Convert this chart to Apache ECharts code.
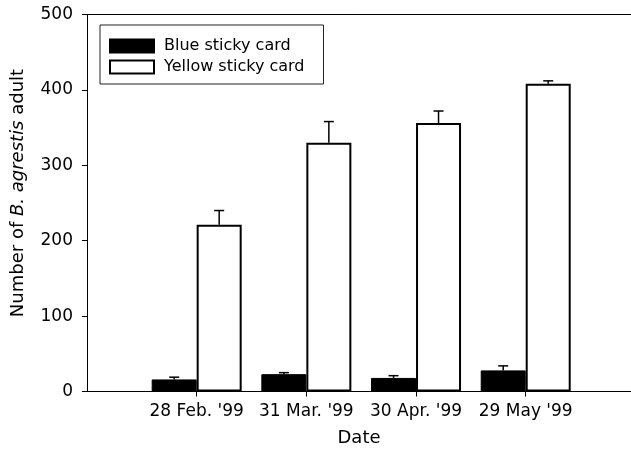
<!DOCTYPE html>
<html>
<head>
<meta charset="utf-8">
<script src="https://cdn.jsdelivr.net/npm/echarts@6/dist/echarts.min.js"></script>
<style>
  html, body { margin: 0; padding: 0; background: #fff; }
  #chart { width: 631px; height: 459px; }
</style>
</head>
<body>
<div id="chart"></div>
<script>
// dates on the x axis, placed at 1..4
const dates = ["28 Feb. '99", "31 Mar. '99", "30 Apr. '99", "29 May '99"];
const datePositions = [1, 2, 3, 4];
const seriesNames = ["Blue sticky card", "Yellow sticky card"];
const blueValues = [16, 23, 18, 28];
const blueErrors = [3, 2, 3, 6];
const yellowValues = [221, 330, 356, 408];
const yellowErrors = [19, 28, 16, 4];
const yTicks = [0, 100, 200, 300, 400, 500];

const font = "DejaVu Sans";
const barWidth = 45;

function toPoints(values) {
  return values.map((v, i) => [datePositions[i], v]);
}
function toErrors(values, errors) {
  return values.map((v, i) => [datePositions[i], v, errors[i]]);
}

// error bar drawn above the bar, shifted to the bar's centre
function errorRenderer(offset) {
  return function (params, api) {
    const x = api.value(0);
    const v = api.value(1);
    const e = api.value(2);
    const p0 = api.coord([x, v]);
    const p1 = api.coord([x, v + e]);
    const cx = p0[0] + offset;
    const style = { stroke: "#000", lineWidth: 1.5 };
    return {
      type: "group",
      children: [
        { type: "line", shape: { x1: cx, y1: p0[1], x2: cx, y2: p1[1] }, style },
        { type: "line", shape: { x1: cx - 5, y1: p1[1], x2: cx + 5, y2: p1[1] }, style }
      ]
    };
  };
}

const chart = echarts.init(document.getElementById("chart"));
const option = {
  animation: false,
  backgroundColor: "#fff",
  textStyle: { fontFamily: font, color: "#000" },
  grid: { left: 87, top: 14.5, right: 0, bottom: 67.5 },
  legend: {
    data: seriesNames,
    orient: "vertical",
    left: 100,
    top: 25,
    icon: "rect",
    itemWidth: 44,
    itemHeight: 13,
    itemGap: 5,
    padding: [13, 19, 9, 9],
    borderColor: "#222",
    borderWidth: 1,
    textStyle: { fontFamily: font, fontSize: 16, color: "#000", padding: [0, 0, 0, 5] }
  },
  xAxis: [
    {
      type: "value",
      min: 0,
      max: 4.96,
      interval: 1,
      name: "Date",
      nameLocation: "middle",
      nameGap: 38,
      nameTextStyle: { fontFamily: font, fontSize: 18, color: "#000" },
      axisLine: { lineStyle: { color: "#000", width: 1 } },
      axisTick: { length: 5, customValues: datePositions, lineStyle: { color: "#000" } },
      axisLabel: {
        margin: 12,
        fontFamily: font,
        fontSize: 17,
        color: "#000",
        customValues: datePositions,
        formatter: v => dates[datePositions.indexOf(v)] || ""
      },
      splitLine: { show: false }
    },
    {
      type: "value",
      position: "top",
      min: 0,
      max: 4.96,
      axisLine: { show: true, lineStyle: { color: "#000", width: 1 } },
      axisTick: { show: false },
      axisLabel: { show: false },
      splitLine: { show: false }
    }
  ],
  yAxis: {
    type: "value",
    min: yTicks[0],
    max: yTicks[yTicks.length - 1],
    interval: 100,
    name: "{n|Number of }{i|B. agrestis}{n| adult}",
    nameLocation: "middle",
    nameGap: 60,
    nameTextStyle: {
      padding: [0, 0, 0, 20],
      rich: {
        n: { fontFamily: font, fontSize: 18, color: "#000" },
        i: { fontFamily: font, fontSize: 18, color: "#000", fontStyle: "italic" }
      }
    },
    axisLine: { show: true, lineStyle: { color: "#000", width: 1 } },
    axisTick: { show: true, length: 5, lineStyle: { color: "#000" } },
    axisLabel: { margin: 14, fontFamily: font, fontSize: 17, color: "#000" },
    splitLine: { show: false }
  },
  series: [
    {
      name: seriesNames[0],
      type: "bar",
      data: toPoints(blueValues),
      barWidth: barWidth,
      barGap: "0%",
      itemStyle: { color: "#000", borderColor: "#000", borderWidth: 1 }
    },
    {
      name: seriesNames[1],
      type: "bar",
      data: toPoints(yellowValues),
      barWidth: barWidth,
      barGap: "0%",
      itemStyle: { color: "#fff", borderColor: "#000", borderWidth: 2 }
    },
    {
      type: "custom",
      data: toErrors(blueValues, blueErrors),
      renderItem: errorRenderer(-barWidth / 2),
      z: 5
    },
    {
      type: "custom",
      data: toErrors(yellowValues, yellowErrors),
      renderItem: errorRenderer(barWidth / 2),
      z: 5
    }
  ]
};
chart.setOption(option);
</script>
</body>
</html>
